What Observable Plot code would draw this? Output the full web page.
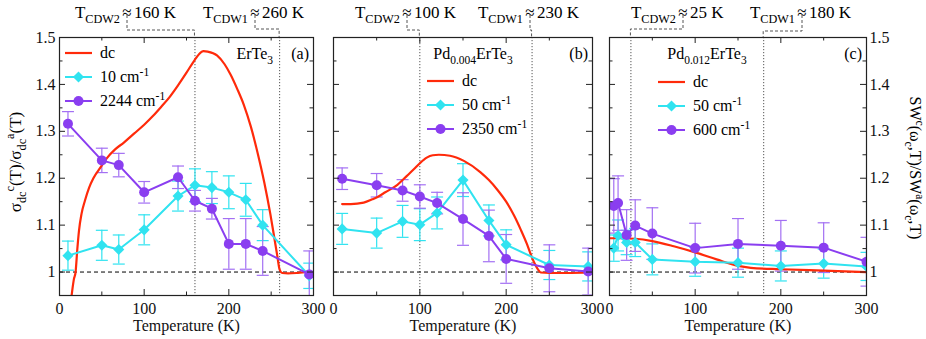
<!DOCTYPE html>
<html><head><meta charset="utf-8">
<script src="https://cdn.jsdelivr.net/npm/d3@7"></script>
<script src="https://cdn.jsdelivr.net/npm/@observablehq/plot@0.6"></script>
<style>
body{margin:0;background:#fff;}
#chart{position:relative;width:926px;height:339px;overflow:hidden;background:#fff;}
#chart svg{position:absolute;top:0;}
#chart svg text{font-family:"Liberation Serif","Times New Roman",serif !important;}
</style></head><body><div id="chart"></div>
<script>
// ---------- data ----------
// Panel (a) ErTe3
const tA = [10, 50, 70, 100, 140, 160, 180, 200, 220, 240, 295];
const cyanA = [1.035, 1.057, 1.048, 1.090, 1.162, 1.185, 1.180, 1.170, 1.154, 1.100, 0.992];
const cyanAErr = [0.031, 0.032, 0.031, 0.032, 0.032, 0.035, 0.034, 0.035, 0.035, 0.033, 0.027];
const purpleA = [1.316, 1.238, 1.228, 1.170, 1.202, 1.152, 1.135, 1.060, 1.060, 1.045, 0.995];
const purpleAErr = [0.026, 0.026, 0.025, 0.023, 0.024, 0.022, 0.022, 0.054, 0.054, 0.052, 0.05];
const dcAT = [13, 15, 17, 19, 21, 23, 26, 30, 35, 40, 48, 56, 66, 76, 88, 100, 110, 120, 130, 140, 150, 160, 165, 170, 175, 186, 195, 202, 210, 218, 226, 234, 242, 249, 254, 257, 260, 263, 270, 280, 290, 300];
const dcAV = [0.93, 0.96, 0.985, 1.0, 1.048, 1.088, 1.124, 1.152, 1.18, 1.2, 1.222, 1.243, 1.262, 1.276, 1.295, 1.314, 1.332, 1.352, 1.373, 1.398, 1.425, 1.453, 1.465, 1.471, 1.47, 1.462, 1.443, 1.421, 1.39, 1.355, 1.31, 1.254, 1.19, 1.124, 1.07, 1.037, 1.005, 0.998, 0.997, 0.998, 1.0, 1.0];
const cdwA = [160, 260];
// Panel (b) Pd0.004ErTe3
const tB = [10, 50, 80, 100, 120, 150, 180, 200, 250, 295];
const cyanB = [1.092, 1.083, 1.108, 1.101, 1.126, 1.196, 1.110, 1.058, 1.015, 1.012];
const cyanBErr = [0.033, 0.032, 0.034, 0.034, 0.034, 0.035, 0.033, 0.032, 0.031, 0.031];
const purpleB = [1.199, 1.185, 1.174, 1.161, 1.147, 1.113, 1.077, 1.028, 1.008, 1.001];
const purpleBErr = [0.023, 0.025, 0.023, 0.025, 0.023, 0.056, 0.055, 0.052, 0.05, 0.05];
const dcBT = [10, 20, 35, 45, 51, 60, 74, 85, 93, 100, 108, 115, 122, 135, 151, 170, 180, 190, 200, 209, 217, 224, 229, 233, 237, 240, 250, 270, 297];
const dcBV = [1.145, 1.145, 1.148, 1.155, 1.16, 1.17, 1.186, 1.205, 1.219, 1.232, 1.244, 1.249, 1.25, 1.248, 1.237, 1.213, 1.196, 1.175, 1.15, 1.121, 1.09, 1.06, 1.035, 1.018, 1.005, 0.999, 0.998, 0.998, 0.999];
const cdwB = [100, 230];
// Panel (c) Pd0.012ErTe3
const tC = [5, 10, 20, 30, 50, 100, 150, 200, 250, 300];
const cyanC = [1.051, 1.078, 1.063, 1.063, 1.027, 1.022, 1.020, 1.013, 1.018, 1.012];
const cyanCErr = [0.028, 0.033, 0.026, 0.030, 0.033, 0.031, 0.031, 0.032, 0.031, 0.030];
const purpleC = [1.141, 1.147, 1.079, 1.099, 1.082, 1.051, 1.060, 1.056, 1.052, 1.022];
const purpleCErr = [0.058, 0.058, 0.054, 0.055, 0.055, 0.053, 0.054, 0.054, 0.053, 0.052];
const dcCT = [1, 15, 30, 50, 75, 100, 125, 150, 165, 200, 250, 300];
const dcCV = [1.072, 1.072, 1.071, 1.066, 1.055, 1.042, 1.027, 1.013, 1.009, 1.006, 1.003, 1.0];
const cdwC = [25, 180];
// ticks
const xMajor = [0, 100, 200, 300];
const xMinor = [50, 150, 250];
const yMajor = [1, 1.1, 1.2, 1.3, 1.4, 1.5];
const yMinor = [1.05, 1.15, 1.25, 1.35, 1.45];
// legend labels
const legendA = ["dc", "10", "2244"];
const legendB = ["dc", "50", "2350"];
const legendC = ["dc", "50", "600"];

// ---------- style ----------
const FONT = "Liberation Serif, Times New Roman, serif";
const RED = "#ff2a0a", CYAN = "#30e3f0", PURPLE = "#8a3ef0", PURPLE_ERR = "#a370f3";
const capSym = {draw(ctx) { ctx.moveTo(-6, 0); ctx.lineTo(6, 0); }};
const rows = (t, v, e) => t.map((T, i) => ({T, v: v[i], e: e ? e[i] : 0}));
const fmt = d => String(+d.toFixed(2));

function rich(g, x, y, parts, o = {}) {
  const size = o.size || 16;
  const t = g.append("text").attr("x", x).attr("y", y).attr("font-size", size)
    .attr("font-family", FONT).attr("text-anchor", o.anchor || "start").attr("fill", o.fill || "black");
  if (o.rotate) t.attr("transform", `rotate(${o.rotate},${x},${y})`);
  let cur = 0;
  for (const [s, k] of parts) {
    const off = k === "sub" ? size * 0.3 : k === "sup" ? -size * 0.4 : 0;
    t.append("tspan").attr("dy", off - cur).attr("font-size", k ? size * 0.72 : size).text(s);
    cur = off;
  }
  return t;
}

function panel(cfg) {
  const H = 339, mt = 37, mb = 44;
  const fw = cfg.width - cfg.ml - cfg.mr, fh = H - mt - mb;
  const cyan = rows(cfg.t, cfg.cyan, cfg.cyanErr);
  const purple = rows(cfg.t, cfg.purple, cfg.purpleErr);
  const dc = rows(cfg.dcT, cfg.dcV);
  const txt = {fontFamily: FONT, fontSize: 16, fill: "#111"};
  const err = (data, color) => [
    Plot.ruleX(data, {x: "T", y1: d => d.v - d.e, y2: d => d.v + d.e, stroke: color, strokeWidth: 1.2, clip: true}),
    Plot.dot(data, {x: "T", y: d => d.v + d.e, symbol: capSym, fill: "none", stroke: color, strokeWidth: 1.2, clip: true}),
    Plot.dot(data, {x: "T", y: d => d.v - d.e, symbol: capSym, fill: "none", stroke: color, strokeWidth: 1.2, clip: true})
  ];
  const marks = [
    Plot.ruleX(cfg.cdw, {x: d => d, stroke: "#555", strokeWidth: 1, strokeDasharray: "1.2,1.8"}),
    Plot.ruleY([1], {y: d => d, stroke: "black", strokeWidth: 1, strokeDasharray: "4,3"}),
    ...err(cyan, CYAN),
    ...err(purple, PURPLE_ERR),
    Plot.line(dc, {x: "T", y: "v", stroke: RED, strokeWidth: 2.2, curve: "monotone-x", clip: true}),
    Plot.line(cyan, {x: "T", y: "v", stroke: CYAN, strokeWidth: 2, clip: true}),
    Plot.dot(cyan, {x: "T", y: "v", symbol: "diamond2", r: 5, fill: CYAN, clip: true}),
    Plot.line(purple, {x: "T", y: "v", stroke: PURPLE, strokeWidth: 2, clip: true}),
    Plot.dot(purple, {x: "T", y: "v", r: 5, fill: PURPLE, clip: true}),
    // inward ticks
    Plot.ruleX(xMajor, {x: d => d, insetTop: fh - 6, stroke: "#222"}),
    Plot.ruleX(xMinor, {x: d => d, insetTop: fh - 3.5, stroke: "#222"}),
    Plot.ruleX(xMajor, {x: d => d, insetBottom: fh - 6, stroke: "#222"}),
    Plot.ruleX(xMinor, {x: d => d, insetBottom: fh - 3.5, stroke: "#222"}),
    Plot.ruleY(yMajor, {y: d => d, insetRight: fw - 6, stroke: "#222"}),
    Plot.ruleY(yMinor, {y: d => d, insetRight: fw - 3.5, stroke: "#222"}),
    Plot.ruleY(yMajor, {y: d => d, insetLeft: fw - 6, stroke: "#222"}),
    Plot.ruleY(yMinor, {y: d => d, insetLeft: fw - 3.5, stroke: "#222"}),
    Plot.frame({stroke: "#222", strokeWidth: 1.2}),
    Plot.text(xMajor, {x: d => d, frameAnchor: "bottom", dy: 18, text: d => String(d), ...txt}),
    Plot.text(["Temperature (K)"], {frameAnchor: "bottom", dy: 35, text: d => d, ...txt})
  ];
  if (cfg.leftLabels) marks.push(Plot.text(yMajor, {y: d => d, frameAnchor: "left", dx: -4, textAnchor: "end", text: fmt, ...txt}));
  if (cfg.rightLabels) marks.push(Plot.text(yMajor, {y: d => d, frameAnchor: "right", dx: 3, textAnchor: "start", text: fmt, ...txt}));
  const plot = Plot.plot({
    width: cfg.width, height: H,
    marginLeft: cfg.ml, marginRight: cfg.mr, marginTop: mt, marginBottom: mb,
    x: {domain: [0, 300], axis: null},
    y: {domain: [0.95, 1.5], axis: null},
    style: {background: "transparent", overflow: "visible", fontFamily: FONT, fontSize: "16px"},
    marks
  });
  plot.style.left = cfg.left + "px";
  d3.select(plot).selectAll("text").style("font-family", FONT);
  const xs = plot.scale("x");
  const g = d3.select(plot).append("g");
  // top annotations with dashed connectors
  cfg.ann.forEach(a => {
    const xt = xs.apply(a.T);
    g.append("path").attr("d", `M${a.px},15V${a.hy}H${xt}V${mt}`)
      .attr("fill", "none").attr("stroke", "#555").attr("stroke-dasharray", "3,2").attr("stroke-width", 1);
    rich(g, a.px - 7, 18, [["T"], ["CDW" + a.n, "sub"]], {size: 17, anchor: "end"});
    rich(g, a.px, 18, [["\u2248"]], {size: 17, anchor: "middle"});
    rich(g, a.px + 7, 18, [[a.T + " K"]], {size: 17});
  });
  // legend
  const [l0, l1, l2] = cfg.legend;
  const x0 = cfg.legX, ys = cfg.legY;
  g.append("line").attr("x1", x0).attr("x2", x0 + 27).attr("y1", ys[0]).attr("y2", ys[0]).attr("stroke", RED).attr("stroke-width", 2.2);
  rich(g, x0 + 35, ys[0] + 5, [[l0]]);
  g.append("line").attr("x1", x0).attr("x2", x0 + 27).attr("y1", ys[1]).attr("y2", ys[1]).attr("stroke", CYAN).attr("stroke-width", 2);
  g.append("path").attr("d", d3.symbol(d3.symbolDiamond2, Math.PI * 25)()).attr("transform", `translate(${x0 + 13.5},${ys[1]})`).attr("fill", CYAN);
  rich(g, x0 + 35, ys[1] + 5, [[l1 + " cm"], ["-1", "sup"]]);
  g.append("line").attr("x1", x0).attr("x2", x0 + 27).attr("y1", ys[2]).attr("y2", ys[2]).attr("stroke", PURPLE).attr("stroke-width", 2);
  g.append("circle").attr("cx", x0 + 13.5).attr("cy", ys[2]).attr("r", 5).attr("fill", PURPLE);
  rich(g, x0 + 35, ys[2] + 5, [[l2 + " cm"], ["-1", "sup"]]);
  // sample name and panel letter
  rich(g, cfg.nameX, 59, cfg.name, {anchor: cfg.nameAnchor});
  rich(g, cfg.ml + fw - 4, 59, [[cfg.letter]], {anchor: "end"});
  document.getElementById("chart").appendChild(plot);
  return g;
}

const gA = panel({
  left: 0, width: 323, ml: 59, mr: 10, leftLabels: true,
  t: tA, cyan: cyanA, cyanErr: cyanAErr, purple: purpleA, purpleErr: purpleAErr,
  dcT: dcAT, dcV: dcAV, cdw: cdwA,
  ann: [{n: 2, T: cdwA[0], px: 127, hy: 30}, {n: 1, T: cdwA[1], px: 255, hy: 29}],
  legend: legendA, legX: 65, legY: [53, 77, 101],
  name: [["ErTe"], ["3", "sub"]], nameX: 273, nameAnchor: "end", letter: "(a)"
});
rich(gA, 21, 162, [["\u03c3"], ["dc", "sub"], ["c", "sup"], ["(T)/\u03c3"], ["dc", "sub"], ["a", "sup"], ["(T)"]], {size: 17, anchor: "middle", rotate: -90});

panel({
  left: 323, width: 277, ml: 10, mr: 8,
  t: tB, cyan: cyanB, cyanErr: cyanBErr, purple: purpleB, purpleErr: purpleBErr,
  dcT: dcBT, dcV: dcBV, cdw: cdwB,
  ann: [{n: 2, T: cdwB[0], px: 407 - 323, hy: 30}, {n: 1, T: cdwB[1], px: 530 - 323, hy: 30}],
  legend: legendB, legX: 427 - 323, legY: [81, 105, 129],
  name: [["Pd"], ["0.004", "sub"], ["ErTe"], ["3", "sub"]], nameX: 473 - 323, nameAnchor: "middle", letter: "(b)"
});

const gC = panel({
  left: 600, width: 326, ml: 9, mr: 60, rightLabels: true,
  t: tC, cyan: cyanC, cyanErr: cyanCErr, purple: purpleC, purpleErr: purpleCErr,
  dcT: dcCT, dcV: dcCV, cdw: cdwC,
  ann: [{n: 2, T: cdwC[0], px: 683 - 600, hy: 29}, {n: 1, T: cdwC[1], px: 802 - 600, hy: 31}],
  legend: legendC, legX: 658 - 600, legY: [82, 106, 130],
  name: [["Pd"], ["0.012", "sub"], ["ErTe"], ["3", "sub"]], nameX: 707 - 600, nameAnchor: "middle", letter: "(c)"
});
rich(gC, 910 - 600, 168, [["SW"], ["c", "sup"], ["(\u03c9"], ["c", "sub"], [",T)/SW"], ["a", "sup"], ["(\u03c9"], ["c", "sub"], [",T)"]], {size: 16, anchor: "middle", rotate: 90});
</script></body></html>
